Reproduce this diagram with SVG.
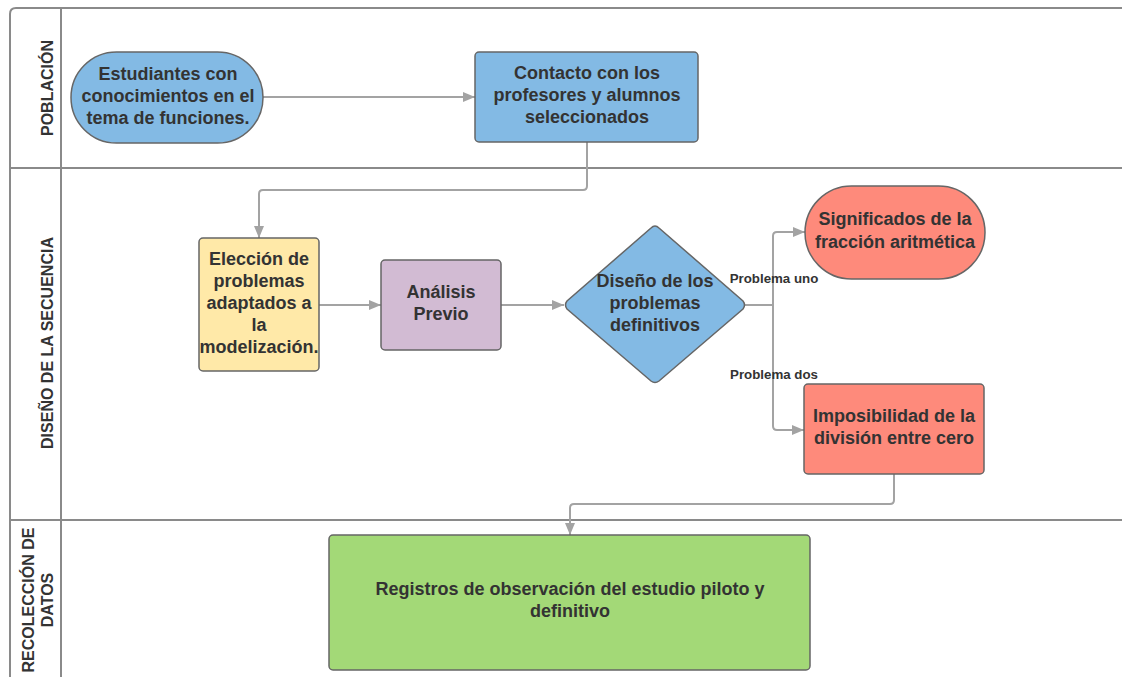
<svg xmlns="http://www.w3.org/2000/svg" width="1122" height="677" viewBox="0 0 1122 677">
<defs>
<style>
.lane{fill:none;stroke:#8a8a8a;stroke-width:2}
.node{stroke:#666;stroke-width:1.5}
.t{font-family:"Liberation Sans",Arial,sans-serif;font-weight:bold;font-size:18px;fill:#333;text-anchor:middle}
.lbl{font-family:"Liberation Sans",Arial,sans-serif;font-weight:bold;font-size:16px;fill:#333;text-anchor:middle}
.el{font-family:"Liberation Sans",Arial,sans-serif;font-weight:bold;font-size:13.3px;fill:#333;text-anchor:middle}
.c{fill:none;stroke:#a3a3a3;stroke-width:2}
</style>
<marker id="ah" viewBox="0 0 12 10" refX="12" refY="5" markerWidth="12" markerHeight="10" markerUnits="userSpaceOnUse" orient="auto">
<path d="M0,0 L12,5 L0,10 z" fill="#a3a3a3"/>
</marker>
</defs>
<rect width="1122" height="677" fill="#fff"/>
<g id="lanes">
<path class="lane" d="M1122,8 H16 Q10,8 10,14 V677"/>
<path class="lane" d="M61,8 V677"/>
<path class="lane" d="M10,168 H1122"/>
<path class="lane" d="M10,520 H1122"/>
<text class="lbl" transform="translate(53,88) rotate(-90)">POBLACIÓN</text>
<text class="lbl" transform="translate(53,343) rotate(-90)">DISEÑO DE LA SECUENCIA</text>
<text class="lbl" transform="translate(34,600) rotate(-90)">RECOLECCIÓN DE</text>
<text class="lbl" transform="translate(53,600) rotate(-90)">DATOS</text>
</g>
<g id="connectors">
<path class="c" d="M263,97 H475" marker-end="url(#ah)"/>
<path class="c" d="M587,142 V186 Q587,190 583,190 H263 Q259,190 259,194 V238" marker-end="url(#ah)"/>
<path class="c" d="M319,305 H381" marker-end="url(#ah)"/>
<path class="c" d="M501,305 H564" marker-end="url(#ah)"/>
<path class="c" d="M745,305 H773 V236 Q773,232 777,232 H805" marker-end="url(#ah)"/>
<path class="c" d="M773,305 V426 Q773,430 777,430 H804" marker-end="url(#ah)"/>
<path class="c" d="M894,474 V500 Q894,504 890,504 H574 Q570,504 570,508 V535" marker-end="url(#ah)"/>
<text class="el" x="774" y="283">Problema uno</text>
<text class="el" x="774" y="379">Problema dos</text>
</g>
<g id="n1">
<rect class="node" x="71" y="52" width="192" height="91" rx="45.5" fill="#83bae4"/>
<text class="t" x="168" y="80">Estudiantes con</text>
<text class="t" x="168" y="102">conocimientos en el</text>
<text class="t" x="168" y="124">tema de funciones.</text>
</g>
<g id="n2">
<rect class="node" x="475" y="52" width="223" height="90" rx="4" fill="#83bae4"/>
<text class="t" x="587" y="79">Contacto con los</text>
<text class="t" x="587" y="101">profesores y alumnos</text>
<text class="t" x="587" y="123">seleccionados</text>
</g>
<g id="n3">
<rect class="node" x="199" y="238" width="120" height="133" rx="4" fill="#ffe9a8"/>
<text class="t" x="259" y="265">Elección de</text>
<text class="t" x="259" y="287">problemas</text>
<text class="t" x="259" y="309">adaptados a</text>
<text class="t" x="259" y="331">la</text>
<text class="t" x="259" y="353">modelización.</text>
</g>
<g id="n4">
<rect class="node" x="381" y="260" width="120" height="90" rx="4" fill="#d2bbd3"/>
<text class="t" x="441" y="298">Análisis</text>
<text class="t" x="441" y="320">Previo</text>
</g>
<g id="n5">
<path class="node" d="M655,226 Q657,226 659,228 L743,301 Q746,305 743,309 L659,381 Q655,384 651,381 L567,309 Q564,305 567,301 L651,228 Q653,226 655,226 z" fill="#83bae4"/>
<text class="t" x="655" y="287">Diseño de los</text>
<text class="t" x="655" y="309">problemas</text>
<text class="t" x="655" y="331">definitivos</text>
</g>
<g id="n6">
<rect class="node" x="805" y="186" width="180" height="93" rx="46.5" fill="#fe8a7b"/>
<text class="t" x="895" y="225">Significados de la</text>
<text class="t" x="895" y="248">fracción aritmética</text>
</g>
<g id="n7">
<rect class="node" x="804" y="384" width="180" height="90" rx="4" fill="#fe8a7b"/>
<text class="t" x="894" y="422">Imposibilidad de la</text>
<text class="t" x="894" y="444">división entre cero</text>
</g>
<g id="n8">
<rect class="node" x="329" y="535" width="481" height="135" rx="4" fill="#a3d977"/>
<text class="t" x="570" y="595">Registros de observación del estudio piloto y</text>
<text class="t" x="570" y="617">definitivo</text>
</g>
</svg>
